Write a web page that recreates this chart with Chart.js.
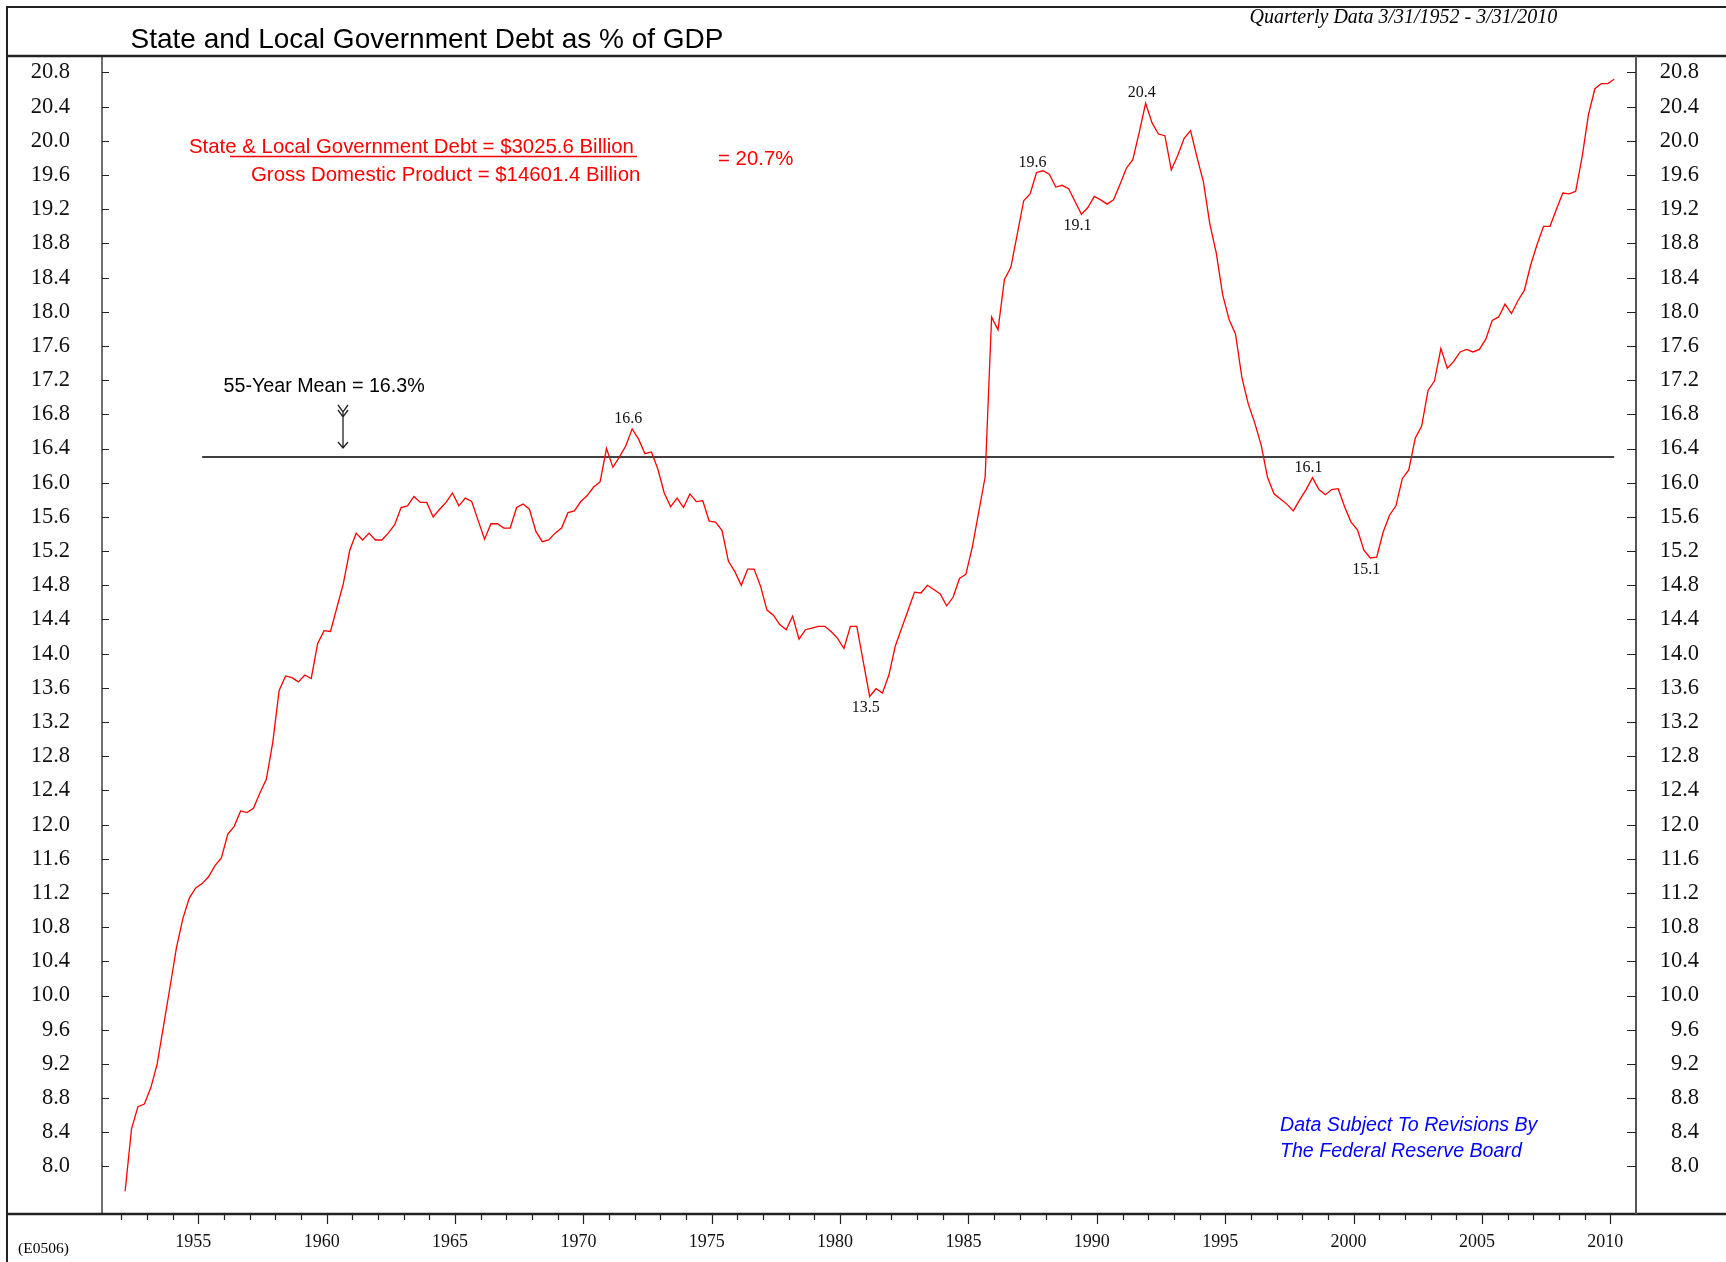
<!DOCTYPE html>
<html>
<head>
<meta charset="utf-8">
<title>State and Local Government Debt as % of GDP</title>
<script src="https://cdn.jsdelivr.net/npm/chart.js@4.4.1/dist/chart.umd.min.js"></script>
<style>
  html, body { margin: 0; padding: 0; background: #fff; }
  #wrap { width: 1726px; height: 1262px; }
</style>
</head>
<body>
<div id="wrap"><canvas id="debtChart" width="1726" height="1262"></canvas></div>
<script>
// --- DATA ---
// quarterly state & local debt as % of GDP, 3/31/1952 .. 3/31/2010
const debtPct = [
  7.71, 8.44, 8.70, 8.73,      // 1952
  8.92, 9.20, 9.65, 10.10,     // 1953
  10.56, 10.90, 11.14, 11.26,  // 1954
  11.31, 11.39, 11.52, 11.61,  // 1955
  11.89, 11.98, 12.16, 12.14,  // 1956
  12.19, 12.37, 12.53, 12.96,  // 1957
  13.57, 13.74, 13.72, 13.67,  // 1958
  13.75, 13.71, 14.12, 14.27,  // 1959
  14.26, 14.54, 14.82, 15.21,  // 1960
  15.41, 15.33, 15.41, 15.33,  // 1961
  15.33, 15.41, 15.51, 15.71,  // 1962
  15.73, 15.84, 15.77, 15.77,  // 1963
  15.60, 15.69, 15.77, 15.88,  // 1964
  15.73, 15.82, 15.78, 15.56,  // 1965
  15.34, 15.52, 15.52, 15.47,  // 1966
  15.47, 15.71, 15.75, 15.69,  // 1967
  15.43, 15.31, 15.33, 15.41,  // 1968
  15.47, 15.65, 15.67, 15.78,  // 1969
  15.85, 15.95, 16.01, 16.40,  // 1970
  16.18, 16.30, 16.43, 16.63,  // 1971
  16.51, 16.34, 16.36, 16.16,  // 1972
  15.88, 15.72, 15.82, 15.71,  // 1973
  15.87, 15.78, 15.79, 15.55,  // 1974
  15.54, 15.44, 15.08, 14.96,  // 1975
  14.80, 14.99, 14.99, 14.79,  // 1976
  14.51, 14.45, 14.34, 14.28,  // 1977
  14.44, 14.17, 14.28, 14.30,  // 1978
  14.32, 14.32, 14.26, 14.18,  // 1979
  14.06, 14.32, 14.32, 13.91,  // 1980
  13.50, 13.59, 13.54, 13.75,  // 1981
  14.09, 14.30, 14.51, 14.72,  // 1982
  14.71, 14.80, 14.75, 14.70,  // 1983
  14.56, 14.66, 14.88, 14.93,  // 1984
  15.25, 15.66, 16.07, 17.94,  // 1985
  17.79, 18.38, 18.52, 18.91,  // 1986
  19.30, 19.38, 19.63, 19.65,  // 1987
  19.61, 19.46, 19.48, 19.44,  // 1988
  19.29, 19.14, 19.22, 19.35,  // 1989
  19.31, 19.26, 19.31, 19.49,  // 1990
  19.68, 19.78, 20.10, 20.44,  // 1991
  20.21, 20.08, 20.06, 19.66,  // 1992
  19.83, 20.03, 20.12, 19.81,  // 1993
  19.52, 19.03, 18.69, 18.20,  // 1994
  17.91, 17.74, 17.23, 16.92,  // 1995
  16.70, 16.44, 16.06, 15.87,  // 1996
  15.81, 15.75, 15.67, 15.80,  // 1997
  15.92, 16.06, 15.92, 15.86,  // 1998
  15.92, 15.93, 15.72, 15.54,  // 1999
  15.45, 15.21, 15.12, 15.13,  // 2000
  15.42, 15.62, 15.73, 16.05,  // 2001
  16.15, 16.52, 16.66, 17.08,  // 2002
  17.19, 17.57, 17.34, 17.42,  // 2003
  17.53, 17.56, 17.53, 17.56,  // 2004
  17.68, 17.90, 17.94, 18.09,  // 2005
  17.98, 18.13, 18.25, 18.55,  // 2006
  18.79, 19.00, 19.00, 19.20,  // 2007
  19.39, 19.38, 19.41, 19.81,  // 2008
  20.31, 20.61, 20.67, 20.67,  // 2009
  20.72                        // 2010
];

const firstQuarterPos = 1952.15;   // where 3/31/1952 sits on the year axis
const meanValue = 16.3;            // 55-year mean
const meanStartIdx = 12;           // mean line runs 1955 .. last quarter
const yTickValues = [8.0, 8.4, 8.8, 9.2, 9.6, 10.0, 10.4, 10.8, 11.2, 11.6, 12.0, 12.4, 12.8,
  13.2, 13.6, 14.0, 14.4, 14.8, 15.2, 15.6, 16.0, 16.4, 16.8, 17.2, 17.6, 18.0, 18.4, 18.8,
  19.2, 19.6, 20.0, 20.4, 20.8];
const yearLabels = [1955, 1960, 1965, 1970, 1975, 1980, 1985, 1990, 1995, 2000, 2005, 2010];
const firstTickYear = 1952;
const lastTickYear = 2010;

// peak / trough call-outs
const peakIdx   = [79, 116, 142, 149, 159, 185, 194];
const peakText  = ['16.6', '13.5', '19.6', '19.1', '20.4', '16.1', '15.1'];
const peakBelow = [false, true, false, true, false, false, true];

// --- BUILD SERIES ---
const quarterPos = debtPct.map((_, i) => firstQuarterPos + i / 4);
const debtPoints = debtPct.map((v, i) => ({ x: quarterPos[i], y: v }));
const meanPoints = [
  { x: quarterPos[meanStartIdx], y: meanValue },
  { x: quarterPos[quarterPos.length - 1], y: meanValue }
];
const yearTicks = [];
for (let yr = firstTickYear; yr <= lastTickYear; yr++) yearTicks.push(yr);

const SERIF = '"Liberation Serif", "Times New Roman", serif';
const SANS = '"Liberation Sans", Arial, sans-serif';

// frame, tick marks and text annotations
const decorPlugin = {
  id: 'decor',
  afterDraw(chart) {
    const ctx = chart.ctx;
    const area = chart.chartArea;
    const xs = chart.scales.x;
    const ys = chart.scales.y;
    const W = chart.width, H = chart.height;

    ctx.save();
    ctx.lineCap = 'butt';

    // outer frame and header / footer rules
    ctx.strokeStyle = '#222';
    ctx.lineWidth = 2;
    ctx.beginPath();
    ctx.moveTo(7, H); ctx.lineTo(7, 7); ctx.lineTo(W, 7);
    ctx.stroke();
    ctx.lineWidth = 2.5;
    ctx.beginPath();
    ctx.moveTo(7, area.top); ctx.lineTo(W, area.top);
    ctx.moveTo(7, area.bottom); ctx.lineTo(W, area.bottom);
    ctx.stroke();

    // axis lines
    ctx.lineWidth = 1.3;
    ctx.strokeStyle = '#222';
    ctx.beginPath();
    ctx.moveTo(area.left, area.top); ctx.lineTo(area.left, area.bottom);
    ctx.stroke();
    ctx.lineWidth = 2;
    ctx.strokeStyle = '#555';
    ctx.beginPath();
    ctx.moveTo(area.right, area.top); ctx.lineTo(area.right, area.bottom);
    ctx.stroke();

    // y tick marks (inside on both sides)
    ctx.strokeStyle = '#222';
    ctx.lineWidth = 1.2;
    ctx.beginPath();
    yTickValues.forEach(v => {
      const py = Math.round(ys.getPixelForValue(v)) + 0.5;
      ctx.moveTo(area.left, py); ctx.lineTo(area.left + 7, py);
      ctx.moveTo(area.right - 9, py); ctx.lineTo(area.right, py);
    });
    ctx.stroke();

    // x tick marks (yearly, long every 5 years)
    ctx.beginPath();
    yearTicks.forEach(yr => {
      const px = Math.round(xs.getPixelForValue(yr)) + 0.5;
      const len = yr % 5 === 0 ? 10 : 6;
      ctx.moveTo(px, area.bottom); ctx.lineTo(px, area.bottom + len);
    });
    ctx.stroke();

    // peak / trough labels
    const meta = chart.getDatasetMeta(0);
    ctx.fillStyle = '#111';
    ctx.font = '16px ' + SERIF;
    ctx.textAlign = 'center';
    ctx.textBaseline = 'middle';
    peakIdx.forEach((idx, k) => {
      const pt = meta.data[idx];
      const dy = peakBelow[k] ? 11.5 : -10;
      ctx.fillText(peakText[k], pt.x - 4, pt.y + dy);
    });

    // header text
    ctx.textAlign = 'left';
    ctx.textBaseline = 'alphabetic';
    ctx.fillStyle = '#000';
    ctx.font = '28px ' + SANS;
    ctx.fillText('State and Local Government Debt as % of GDP', 130.5, 47.5);
    ctx.font = 'italic 20px ' + SERIF;
    ctx.fillText('Quarterly Data 3/31/1952 - 3/31/2010', 1249.5, 23);

    // ratio note
    ctx.fillStyle = '#ff0000';
    ctx.font = '20.4px ' + SANS;
    ctx.fillText('State & Local Government Debt = $3025.6 Billion', 189, 153);
    ctx.fillText('Gross Domestic Product = $14601.4 Billion', 251, 181);
    ctx.fillText('= 20.7%', 718, 165);
    ctx.strokeStyle = '#ff0000';
    ctx.lineWidth = 1.5;
    ctx.beginPath();
    ctx.moveTo(230, 156.5); ctx.lineTo(637, 156.5);
    ctx.stroke();

    // mean note and arrow
    ctx.fillStyle = '#000';
    ctx.font = '19.7px ' + SANS;
    ctx.fillText('55-Year Mean = 16.3%', 223.5, 392);
    const ax = 343;
    ctx.strokeStyle = '#222';
    ctx.lineWidth = 1.3;
    ctx.beginPath();
    ctx.moveTo(ax - 5, 405); ctx.lineTo(ax, 412); ctx.lineTo(ax + 5, 405);
    ctx.moveTo(ax - 5, 410); ctx.lineTo(ax, 417); ctx.lineTo(ax + 5, 410);
    ctx.moveTo(ax, 412); ctx.lineTo(ax, 448);
    ctx.moveTo(ax - 5, 442); ctx.lineTo(ax, 448); ctx.lineTo(ax + 5, 442);
    ctx.stroke();

    // source note
    ctx.fillStyle = '#0000ff';
    ctx.font = 'italic 19.6px ' + SANS;
    ctx.fillText('Data Subject To Revisions By', 1280, 1130.5);
    ctx.fillText('The Federal Reserve Board', 1280, 1157);

    // chart code
    ctx.fillStyle = '#000';
    ctx.font = '15.5px ' + SERIF;
    ctx.fillText('(E0506)', 18, 1253);

    ctx.restore();
  }
};

const yTicksHook = scale => { scale.ticks = yTickValues.map(v => ({ value: v })); };

const ctx = document.getElementById('debtChart').getContext('2d');
new Chart(ctx, {
  type: 'line',
  data: {
    datasets: [
      {
        label: 'Debt % of GDP',
        data: debtPoints,
        borderColor: '#ff0000',
        borderWidth: 1.3,
        pointRadius: 0,
        tension: 0,
        fill: false
      },
      {
        label: '55-Year Mean',
        data: meanPoints,
        borderColor: '#000',
        borderWidth: 1.5,
        pointRadius: 0,
        fill: false
      }
    ]
  },
  options: {
    responsive: false,
    animation: false,
    events: [],
    layout: { padding: { top: 56, right: 27, left: 0, bottom: 0 } },
    plugins: { legend: { display: false }, tooltip: { enabled: false } },
    scales: {
      x: {
        type: 'linear',
        min: 1951.25,
        max: 2011,
        grid: { display: false, drawTicks: false },
        border: { display: false },
        afterBuildTicks: scale => { scale.ticks = yearTicks.map(v => ({ value: v })); },
        afterFit: scale => { scale.height = 48; },
        ticks: {
          autoSkip: false,
          maxRotation: 0,
          padding: 17,
          labelOffset: -5,
          color: '#111',
          font: { family: SERIF, size: 18 },
          callback: v => (yearLabels.includes(v) ? String(v) : '')
        }
      },
      y: {
        position: 'left',
        min: 7.444,
        max: 20.993,
        grid: { display: false, drawTicks: false },
        border: { display: false },
        afterBuildTicks: yTicksHook,
        afterFit: scale => { scale.width = 102; },
        ticks: {
          padding: 32,
          color: '#111',
          font: { family: SERIF, size: 22.5 },
          callback: v => v.toFixed(1)
        }
      },
      y2: {
        position: 'right',
        min: 7.444,
        max: 20.993,
        grid: { display: false, drawTicks: false },
        border: { display: false },
        afterBuildTicks: yTicksHook,
        afterFit: scale => { scale.width = 63; },
        ticks: {
          crossAlign: 'far',
          color: '#111',
          font: { family: SERIF, size: 22.5 },
          callback: v => v.toFixed(1)
        }
      }
    }
  },
  plugins: [decorPlugin]
});
</script>
</body>
</html>
